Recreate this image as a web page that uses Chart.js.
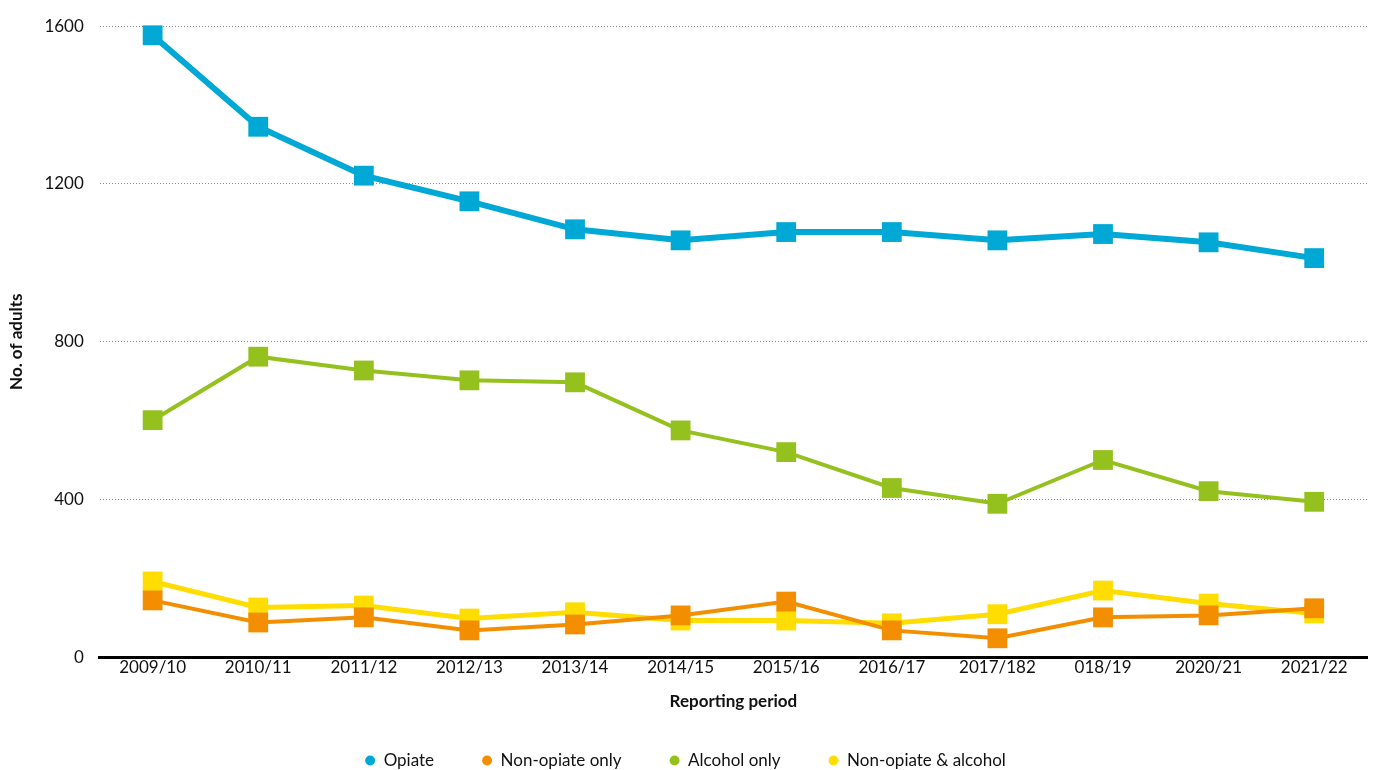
<!DOCTYPE html>
<html>
<head>
<meta charset="utf-8">
<script src="https://cdn.jsdelivr.net/npm/chart.js@4"></script>
<style>
  html, body { margin: 0; padding: 0; background: #fff; }
  #wrap { width: 1381px; height: 770px; }
</style>
</head>
<body>
<div id="wrap"><canvas id="adultsChart"></canvas></div>
<script>
const periods = ["2009/10", "2010/11", "2011/12", "2012/13", "2013/14", "2014/15",
  "2015/16", "2016/17", "2017/182", "018/19", "2020/21", "2021/22"];
const opiate = [1577, 1345, 1221, 1156, 1085, 1057, 1078, 1078, 1057, 1073, 1052, 1012];
const nonOpiateOnly = [144, 88, 101, 68, 83, 106, 141, 68, 48, 101, 106, 124];
const alcoholOnly = [601, 762, 727, 702, 697, 575, 520, 429, 389, 500, 421, 394];
const nonOpiateAlcohol = [192, 126, 131, 98, 114, 93, 93, 86, 109, 169, 136, 111];
const yTicks = [0, 400, 800, 1200, 1600];

const FONT = "Lato, 'Open Sans', sans-serif";
Chart.defaults.font.family = FONT;
Chart.defaults.color = "#111";

function series(label, values, color, width) {
  return {
    label: label,
    data: values,
    borderColor: color,
    backgroundColor: color,
    borderWidth: width,
    pointStyle: "rect",
    pointRadius: 14,
    pointHoverRadius: 14,
    pointBorderWidth: 0,
    pointBackgroundColor: color,
    tension: 0,
    clip: false,
  };
}

const config = {
  type: "line",
  data: {
    labels: periods,
    datasets: [
      series("Opiate", opiate, "#00a8d6", 6),
      series("Non-opiate only", nonOpiateOnly, "#f28e00", 4),
      series("Alcohol only", alcoholOnly, "#95c11f", 4),
      series("Non-opiate & alcohol", nonOpiateAlcohol, "#ffdd00", 5),
    ],
  },
  options: {
    responsive: true,
    maintainAspectRatio: false,
    animation: false,
    layout: { autoPadding: false, padding: { top: -2, right: 14, left: 4, bottom: -9 } },
    scales: {
      x: {
        offset: true,
        grid: { display: false },
        border: { display: true, color: "#000", width: 3 },
        ticks: { font: { size: 17 }, color: "#111", padding: -8 },
        title: {
          display: true,
          text: "Reporting period",
          font: { size: 17, weight: "bold" },
          color: "#111",
          padding: { top: 22, bottom: -8 },
        },
      },
      y: {
        min: 0,
        max: 1600,
        afterBuildTicks: (axis) => {
          axis.ticks = yTicks.map((v) => ({ value: v }));
        },
        grid: { color: "#888", lineWidth: 1, drawTicks: false },
        border: { display: false, dash: [1, 2] },
        ticks: {
          font: { size: 17 },
          color: "#111",
          padding: 16,
          callback: (v) => String(v),
        },
        title: {
          display: true,
          text: "No. of adults",
          font: { size: 17, weight: "bold" },
          color: "#111",
          padding: { top: 2, bottom: 2 },
        },
      },
    },
    plugins: {
      legend: {
        position: "bottom",
        labels: {
          usePointStyle: true,
          pointStyle: "circle",
          boxWidth: 10,
          boxHeight: 7,
          padding: 48,
          font: { size: 17 },
          color: "#111",
        },
      },
      tooltip: { enabled: true },
    },
  },
};

const adultsChart = new Chart(document.getElementById("adultsChart"), config);
</script>
</body>
</html>
